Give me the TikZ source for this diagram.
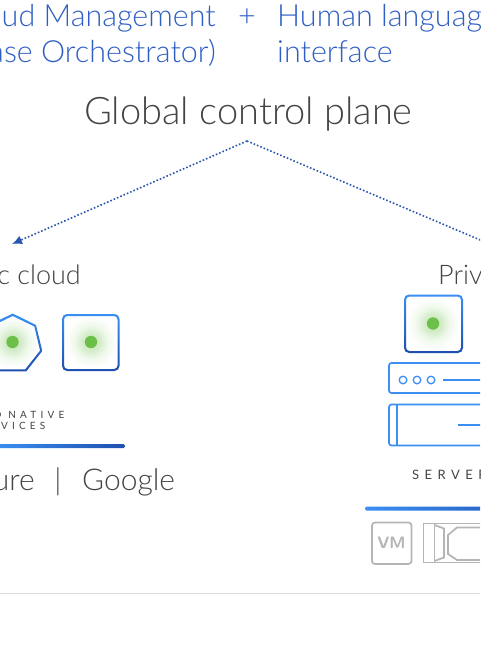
\documentclass[tikz,border=0pt]{standalone}
\usepackage{fontspec}
\setmainfont{Lato Light}
\newfontfamily\spacedfont[LetterSpace=42]{Lato}
\newfontfamily\widefont[LetterSpace=42]{Lato}
\usetikzlibrary{arrows.meta}
\definecolor{tblue}{HTML}{2F5FC4}
\definecolor{ttext}{HTML}{444444}
\definecolor{ibluetop}{HTML}{3B8FF3}
\definecolor{ibluebot}{HTML}{1D4FAE}
\definecolor{glow}{HTML}{6CC04A}
\definecolor{grayicon}{HTML}{B5B5B5}
\pgfdeclareradialshading{glowshade}{\pgfpoint{0cm}{0cm}}{color(0cm)=(glow!45!white); color(0.3cm)=(glow!28!white); color(0.55cm)=(glow!10!white); color(0.85cm)=(white); color(2cm)=(white)}
\tikzset{
  x=1pt,y=-1pt,
  heading/.style={font=\fontsize{30.5}{36}\selectfont,text=tblue,inner sep=0pt},
  title/.style={font=\fontsize{38}{40}\selectfont,text=ttext,inner sep=0pt},
  sub/.style={font=\fontsize{27}{30}\selectfont,text=ttext,inner sep=0pt},
  subbig/.style={font=\fontsize{30}{32}\selectfont,text=ttext,inner sep=0pt},
  tiny/.style={font=\fontsize{10}{10}\selectfont\spacedfont,text=ttext,inner sep=0pt},
  link/.style={draw=tblue!90!black,dotted,line width=1.6pt},
  srv/.style={draw=ibluetop,line width=1.7pt,rounded corners=2.5pt},
  thin gray/.style={draw=grayicon,line width=1.7pt},
}
\newcommand{\gdot}[2]{%
  \shade[shading=glowshade] (#1,#2) circle (27);}
\newcommand{\gcore}[2]{\fill[glow] (#1,#2) circle (6.2);}
\newcommand{\gsquare}[4]{%
  \shade[top color=ibluetop,bottom color=ibluebot,even odd rule]
    [rounded corners=5pt] (#1,#2) rectangle (#3,#4)
    [rounded corners=3.5pt] (#1+2,#2+2) rectangle (#3-2,#4-2);}
\begin{document}
\begin{tikzpicture}
\useasboundingbox (0,0) rectangle (480,650);
\fill[white] (0,0) rectangle (480,650);
\clip (0,0) rectangle (480,650);

% headings
\node[heading,anchor=base east] (cm1) at (216,27) {Cloud Management};
\node[heading,anchor=base east] (cm2) at (216,63) {(Database Orchestrator)};
\node[heading,anchor=base] (plus) at (247,27) {+};
\node[heading,anchor=base west] (hl1) at (277,27) {Human language};
\node[heading,anchor=base west] (hl2) at (277,63) {interface};
\node[title,anchor=base] (gcp) at (248.5,124.5) {Global control plane};

% connectors
\coordinate (apex) at (247,141);
\coordinate (pubend) at (12,244);
\coordinate (privend) at (492,245);
\draw[link,-{Latex[length=10pt,width=9pt]}] (apex) -- (pubend);
\draw[link,-{Latex[length=10pt,width=9pt]}] (apex) -- (privend);

% public cloud
\node[sub,anchor=base east] (pub) at (81,284) {Public cloud};
\gdot{12.5}{342}
\shade[top color=ibluetop,bottom color=ibluebot,even odd rule]
  (12.7,313.5) -- (36,325) -- (42.3,351) -- (26.3,371.3) -- (-1,371.3) -- (-17,351) -- (-11,325) -- cycle
  (12.7,316) -- (34.3,326.4) -- (40.1,350.5) -- (25.3,369.3) -- (0,369.3) -- (-15,350.5) -- (-9,326.4) -- cycle;
\gcore{12.5}{342}
\gdot{91}{342}
\gcore{91}{342}
\gsquare{62}{314}{119.5}{371}
\node[tiny,anchor=base east] (cn1) at (64.5,418.5) {CLOUD NATIVE};
\node[tiny,anchor=base east] (cn2) at (45.5,429.5) {SERVICES};
\shade[left color=ibluetop,right color=ibluebot,rounded corners=1.5pt] (-5,444) rectangle (125,448);
\node[subbig,anchor=base west] (goog) at (82,490) {Google};
\node[subbig,anchor=base] (sep) at (58,490) {|};
\node[subbig,anchor=base east] (az) at (35,490) {Azure};

% private cloud
\node[sub,anchor=base west] (priv) at (438,284) {Private cloud};
\gdot{433}{323.5}
\gcore{433}{323.5}
\gsquare{404}{294.5}{463}{353}
\draw[srv] (389,363) rectangle (500,393);
\draw[ibluetop,line width=1.3pt] (403,380) circle (3.8) (417,380) circle (3.8) (431,380) circle (3.8);
\draw[ibluetop,line width=1.3pt] (443,380) -- (500,380);
\draw[srv] (389,404.5) rectangle (500,445.5);
\draw[ibluetop,line width=1.7pt] (396.7,404.5) -- (396.7,445.5);
\draw[ibluetop,line width=1.3pt] (458,425) -- (500,425);
\node[inner sep=0pt,text=ttext,font=\fontsize{13}{13}\selectfont\widefont,anchor=base west] (srvt) at (412,479.5) {SERVERS};
\shade[left color=ibluetop,right color=ibluebot,rounded corners=1.5pt] (365,506.5) rectangle (560,510.5);

% grey icons
\draw[thin gray,rounded corners=3pt] (372,522.5) rectangle (411.5,564);
\node[font=\bfseries\fontsize{16.5}{18}\selectfont\sffamily,text=grayicon,inner sep=0pt] (vm) at (391.5,542.5) {VM};
\draw[thin gray] (500,523.5) -- (423.5,523.5) -- (423.5,562.5) -- (500,562.5);
\draw[thin gray] (434.5,523.5) -- (434.5,562.5);
\draw[thin gray] (434.5,525) -- (444,528.5) -- (444,557.5) -- (434.5,561);
\draw[thin gray] (500,527.5) -- (457,527.5) -- (448,535) -- (448,554) -- (457,560) -- (500,560);

% footer rule
\draw[draw=black!13,line width=1pt] (0,593) -- (480,593);
\end{tikzpicture}
\end{document}
